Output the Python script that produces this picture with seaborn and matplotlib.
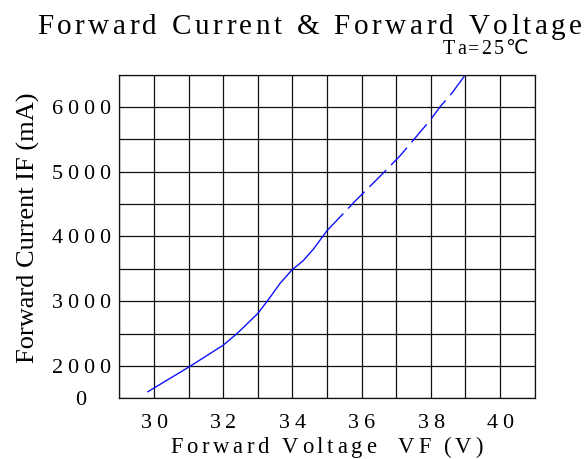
import numpy as np
import matplotlib
matplotlib.use("Agg")
import matplotlib.pyplot as plt
import seaborn as sns
from matplotlib.font_manager import FontProperties, findfont
from matplotlib.ft2font import FT2Font

# curve
vf_solid = [29.82, 31.0, 32.0, 32.4, 33.0, 33.3, 33.65, 34.0, 34.3, 34.6, 35.0]
if_solid = [1600, 1980, 2320, 2500, 2810, 3020, 3280, 3490, 3620, 3800, 4090]
vf_dashed = [35.0, 35.8, 36.55, 37.1, 37.97, 38.26, 38.6, 39.0]
if_dashed = [4090, 4540, 4940, 5240, 5790, 6000, 6210, 6500]

x_ticks = list(range(29, 42))
x_labels = ["", "30", "", "32", "", "34", "", "36", "", "38", "", "40", ""]
y_ticks = list(range(1500, 7000, 500))
y_labels = ["0", "2000", "", "3000", "", "4000", "", "5000", "", "6000", ""]

title = "Forward Current & Forward Voltage"
note = "Ta=25\u2103"
x_title = "Forward Voltage  VF (V)"
y_title = "Forward Current IF (mA)"

W, H = 587, 459
FAMILIES = ["Liberation Serif", "DejaVu Sans"]

sns.set_theme(style="white")
plt.rcParams["font.family"] = FAMILIES

fig = plt.figure(figsize=(W / 100, H / 100), dpi=100)
ax = fig.add_axes([119.3 / W, 1 - 398.3 / H, 415.4 / W, 323.6 / H])

_fonts = [(fam, FT2Font(findfont(FontProperties(family=fam)))) for fam in FAMILIES]


def spaced_text(x_px, y_px, s, size, track, ha="left", va="baseline"):
    """Draw s letter by letter (the original uses wide letter spacing).
    x_px, y_px are pixels from the top-left corner."""
    chars = []
    for ch in s:
        for fam, ft in _fonts:
            if ft.get_char_index(ord(ch)):
                break
        ft.set_size(size, fig.dpi)
        adv = ft.load_char(ord(ch)).linearHoriAdvance / 65536
        chars.append((ch, fam, adv))
    total = sum(c[2] for c in chars) + track * (len(chars) - 1)
    if ha == "center":
        x_px -= total / 2
    for ch, fam, adv in chars:
        fig.text(x_px / W, 1 - y_px / H, ch, fontsize=size, family=fam,
                 ha="left", va=va, color="black")
        x_px += adv + track


sns.lineplot(x=vf_solid, y=if_solid, sort=False, estimator=None,
             color="#1010ff", linewidth=1.0, ax=ax)
sns.lineplot(x=vf_dashed, y=if_dashed, sort=False, estimator=None,
             color="#1010ff", linewidth=1.0, ax=ax)
ax.lines[-1].set_dashes((17, 5))

ax.set_xlim(29, 41)
ax.set_ylim(1500, 6500)
ax.set_xticks(x_ticks)
ax.set_yticks(y_ticks)
ax.set_xticklabels([])
ax.set_yticklabels([])
ax.tick_params(length=0)
ax.grid(True, color="#111111", linewidth=0.9)
for sp in ax.spines.values():
    sp.set_color("#111111")
    sp.set_linewidth(0.9)
ax.set_xlabel("")
ax.set_ylabel("")

# tick labels, spaced like the original, placed at the tick values
to_px = ax.transData
for v, lab in zip(x_ticks, x_labels):
    if lab:
        px = to_px.transform((v, 1500))[0]
        spaced_text(px, 428.3, lab, 16, 4.5, ha="center")
for v, lab in zip(y_ticks, y_labels):
    if lab:
        py = H - to_px.transform((29, v))[1]
        spaced_text(81, py, lab, 16, 4.5, ha="center", va="center_baseline")

spaced_text(36.7, 34.3, title, 21, 3.6)
spaced_text(443, 54.5, note, 14.4, 2.0)
spaced_text(170, 453.3, x_title, 16.3, 3.7)
fig.text(28 / W, 1 - 227.5 / H, y_title, rotation=90, ha="center", va="center",
         fontsize=19, color="black")

fig.savefig("out.png", dpi=100)
